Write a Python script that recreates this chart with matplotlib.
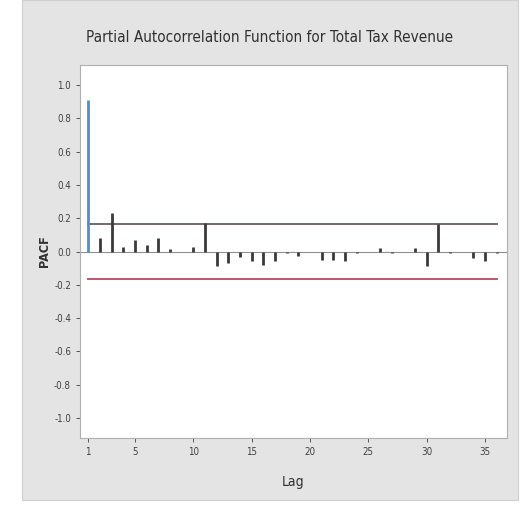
import matplotlib.pyplot as plt
from matplotlib.patches import Rectangle

# PACF values, lags 1..36
lags = list(range(1, 37))
pacf = [0.91, 0.08, 0.23, 0.025, 0.07, 0.04, 0.08, 0.015, 0.0, 0.03,
        0.17, -0.09, -0.07, -0.035, -0.06, -0.08, -0.055, -0.01, -0.03, 0.0,
        -0.05, -0.05, -0.055, -0.01, 0.0, 0.02, -0.01, 0.0, 0.02, -0.09,
        0.165, -0.01, 0.0, -0.04, -0.06, -0.01]
conf_limit = 0.165
xticks = [1, 5, 10, 15, 20, 25, 30, 35]
yticks = [1.0, 0.8, 0.6, 0.4, 0.2, 0.0, -0.2, -0.4, -0.6, -0.8, -1.0]

plt.rcParams['font.family'] = ['DejaVu Sans']
plt.rcParams['font.stretch'] = 'condensed'

fig = plt.figure(figsize=(5.26, 5.13), dpi=100)
fig.patch.set_facecolor('white')
# grey Minitab-like panel behind the plot
fig.patches.append(Rectangle((22 / 526, 13 / 513), 496 / 526, 500 / 513,
                             transform=fig.transFigure, facecolor='#e4e4e4',
                             edgecolor='#d0d0d0', lw=0.8, zorder=-5))

ax = fig.add_axes([80 / 526, 75 / 513, 427 / 526, 373 / 513])
ax.set_facecolor('white')

# zero line and significance limits
ax.axhline(0, color='#909090', lw=0.8, zorder=1)
ax.plot([1, 36], [conf_limit, conf_limit], color='#6a5a5e', lw=1.3, zorder=2)
ax.plot([1, 36], [-conf_limit, -conf_limit], color='#b84a5a', lw=1.3, zorder=2)

# stems
colors = ['#5a8cc0'] + ['#3a3a3a'] * (len(lags) - 1)
ax.vlines(lags, 0, pacf, colors=colors, lw=2, zorder=3)

ax.set_xlim(0.3, 36.9)
ax.set_ylim(-1.12, 1.12)
ax.set_xticks(xticks)
ax.set_yticks(yticks)
ax.set_yticklabels([f'{v:.1f}' for v in yticks])
ax.tick_params(labelsize=7, colors='#404040', length=3, width=0.6)
for s in ax.spines.values():
    s.set_color('#b0b0b0')
    s.set_linewidth(0.8)

ax.set_xlabel('Lag', fontsize=10, color='#303030', labelpad=13)
ax.set_ylabel('PACF', fontsize=9, fontweight='bold', color='#303030', labelpad=2)
fig.text(270 / 526, 1 - 37 / 513, 'Partial Autocorrelation Function for Total Tax Revenue',
         ha='center', va='center', fontsize=11, color='#303030')

fig.savefig('out.png', dpi=100, facecolor=fig.get_facecolor())
